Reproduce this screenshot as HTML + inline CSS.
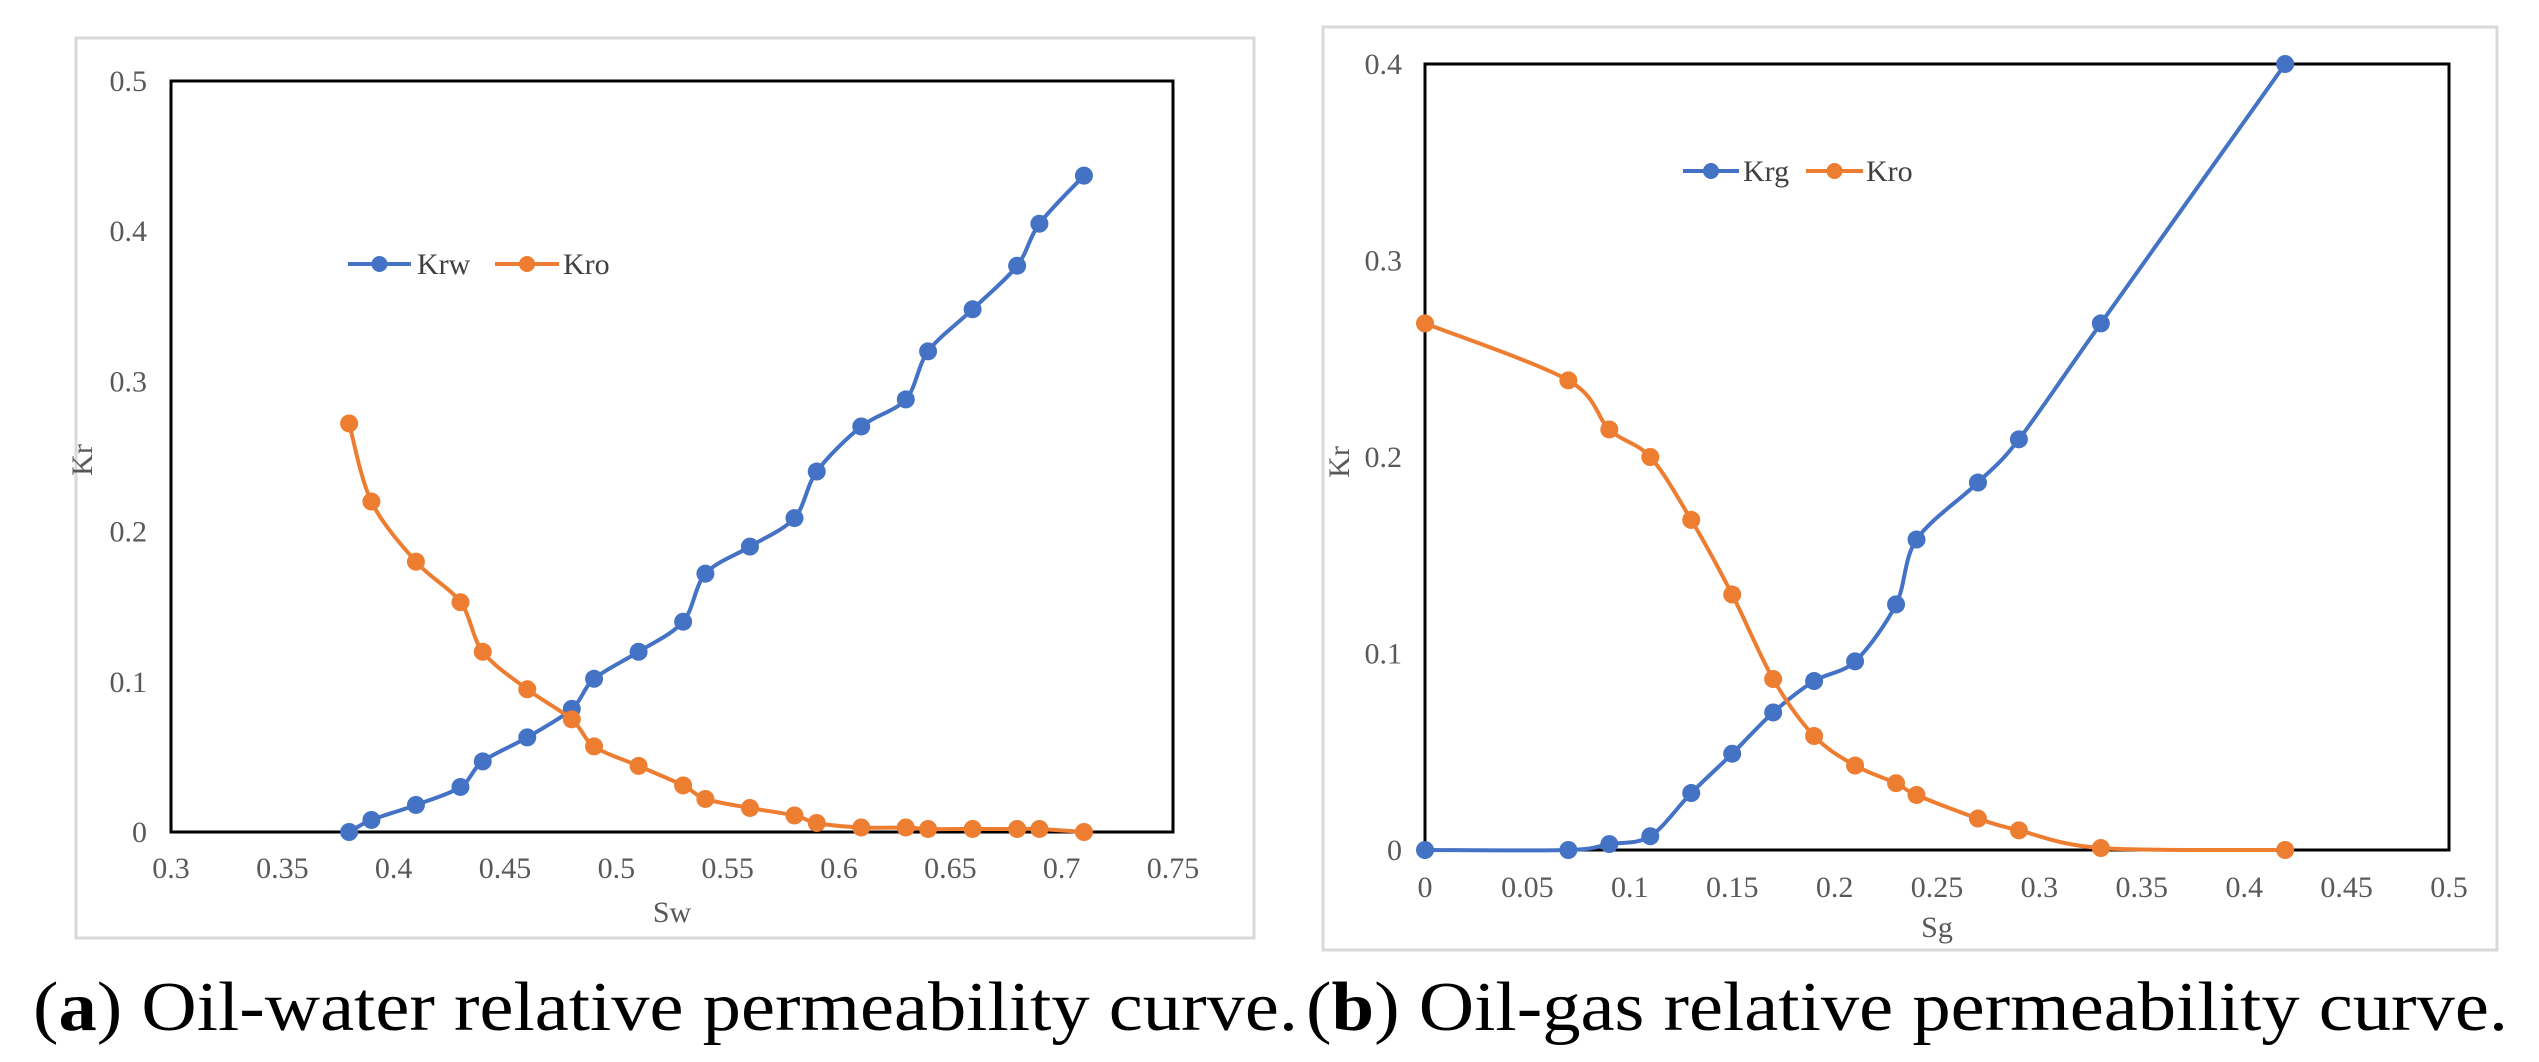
<!DOCTYPE html>
<html><head><meta charset="utf-8"><style>
html,body{margin:0;padding:0;background:#fff;}
svg{display:block;}
text{font-family:"Liberation Serif",serif;}
</style></head><body>
<svg id="fig" width="2539" height="1062" viewBox="0 0 2539 1062" xmlns="http://www.w3.org/2000/svg">
<rect x="76" y="38" width="1178" height="900" fill="#fff" stroke="#d9d9d9" stroke-width="3"/>
<rect x="1323" y="27" width="1174" height="923" fill="#fff" stroke="#d9d9d9" stroke-width="3"/>
<g id="chartA"></g>
<g id="chartB"></g>
<text x="33" y="1030" font-size="70" textLength="1265" lengthAdjust="spacingAndGlyphs" fill="#000">(<tspan font-weight="bold">a</tspan>) Oil-water relative permeability curve.</text>
<text x="1306" y="1030" font-size="70" textLength="1202" lengthAdjust="spacingAndGlyphs" fill="#000">(<tspan font-weight="bold">b</tspan>) Oil-gas relative permeability curve.</text>
</svg>
<script>
const swVals = [0.38,0.39,0.41,0.43,0.44,0.46,0.48,0.49,0.51,0.53,0.54,0.56,0.58,0.59,0.61,0.63,0.64,0.66,0.68,0.69,0.71];
const krwVals = [0,0.008,0.018,0.03,0.047,0.063,0.082,0.102,0.12,0.14,0.172,0.19,0.209,0.24,0.27,0.288,0.32,0.348,0.377,0.405,0.437];
const kroAVals = [0.272,0.22,0.18,0.153,0.12,0.095,0.075,0.057,0.044,0.031,0.022,0.016,0.011,0.006,0.003,0.003,0.002,0.002,0.002,0.002,0];
const xTicksA = ["0.3","0.35","0.4","0.45","0.5","0.55","0.6","0.65","0.7","0.75"];
const yTicksA = ["0","0.1","0.2","0.3","0.4","0.5"];

const sgVals = [0,0.07,0.09,0.11,0.13,0.15,0.17,0.19,0.21,0.23,0.24,0.27,0.29,0.33,0.42];
const krgVals = [0,0,0.003,0.007,0.029,0.049,0.07,0.086,0.096,0.125,0.158,0.187,0.209,0.268,0.4];
const kroBVals = [0.268,0.239,0.214,0.2,0.168,0.13,0.087,0.058,0.043,0.034,0.028,0.016,0.01,0.001,0];
const xTicksB = ["0","0.05","0.1","0.15","0.2","0.25","0.3","0.35","0.4","0.45","0.5"];
const yTicksB = ["0","0.1","0.2","0.3","0.4"];

const NS="http://www.w3.org/2000/svg";
function mk(tag,attrs,parent){const e=document.createElementNS(NS,tag);for(const k in attrs)e.setAttribute(k,attrs[k]);parent.appendChild(e);return e;}
function smooth(pts){
  let d=`M${pts[0][0]},${pts[0][1]}`;
  for(let i=0;i<pts.length-1;i++){
    const p0=pts[Math.max(0,i-1)],p1=pts[i],p2=pts[i+1],p3=pts[Math.min(pts.length-1,i+2)];
    const t=0.16;
    const c1=[p1[0]+(p2[0]-p0[0])*t,p1[1]+(p2[1]-p0[1])*t];
    const c2=[p2[0]-(p3[0]-p1[0])*t,p2[1]-(p3[1]-p1[1])*t];
    d+=` C${c1[0]},${c1[1]} ${c2[0]},${c2[1]} ${p2[0]},${p2[1]}`;
  }
  return d;
}
function drawChart(g,cfg){
  const {x0,x1,y0,y1,xmin,xmax,ymin,ymax,xTicks,yTicks,series,xTitle,xTitleY,kr,legend,tickY,yLabelX}=cfg;
  const xs=v=>x0+(v-xmin)/(xmax-xmin)*(x1-x0);
  const ys=v=>y0-(v-ymin)/(ymax-ymin)*(y0-y1);
  const frame=mk('rect',{x:x0,y:y1,width:x1-x0,height:y0-y1,fill:'none',stroke:'#000','stroke-width':3},g);
  
  
  xTicks.forEach(t=>{
    const e=mk('text',{x:xs(parseFloat(t)),y:tickY,'font-size':30,fill:'#595959','text-anchor':'middle'},g);
    e.textContent=t;
    
    
  });
  yTicks.forEach(t=>{
    const e=mk('text',{x:yLabelX,y:ys(parseFloat(t))+10,'font-size':30,fill:'#595959','text-anchor':'end'},g);
    e.textContent=t;
    
    
  });
  const xt=mk('text',{x:(x0+x1)/2,y:xTitleY,'font-size':30,fill:'#595959','text-anchor':'middle'},g);
  xt.textContent=xTitle;
  
  
  const yt=mk('text',{x:kr[0],y:kr[1],'font-size':30,fill:'#595959','text-anchor':'middle',transform:`rotate(-90 ${kr[0]} ${kr[1]})`},g);
  yt.textContent='Kr';
  
  
  series.forEach(s=>{
    const pts=s.x.map((v,i)=>[xs(v),ys(s.y[i])]);
    const sg=mk('g',{},g);
    
    
    const p=mk('path',{d:smooth(pts),fill:'none',stroke:s.color,'stroke-width':4},sg);
    
    
    pts.forEach(q=>{
      const c=mk('circle',{cx:q[0],cy:q[1],r:9,fill:s.color},sg);
      
      
    });
  });
  legend.forEach((L,i)=>{
    const s=series[i];
    const lg=mk('g',{},g);
    
    
    mk('line',{x1:L[0],x2:L[1],y1:L[3],y2:L[3],stroke:s.color,'stroke-width':4},lg);
    mk('circle',{cx:(L[0]+L[1])/2,cy:L[3],r:8,fill:s.color},lg);
    const t=mk('text',{x:L[2],y:L[3]+10,'font-size':30,fill:'#404040'},lg);
    t.textContent=s.name;
  });
}
drawChart(document.getElementById('chartA'),{
  x0:171,x1:1173,y0:832,y1:81,xmin:0.3,xmax:0.75,ymin:0,ymax:0.5,
  xTicks:xTicksA,yTicks:yTicksA,tickY:878,yLabelX:147,xTitle:'Sw',xTitleY:922,kr:[92,460],
  series:[{name:'Krw',x:swVals,y:krwVals,color:'#4472C4'},{name:'Kro',x:swVals,y:kroAVals,color:'#ED7D31'}],
  legend:[[348,411,417,264],[495,559,563,264]]
});
drawChart(document.getElementById('chartB'),{
  x0:1425,x1:2449,y0:850,y1:64,xmin:0,xmax:0.5,ymin:0,ymax:0.4,
  xTicks:xTicksB,yTicks:yTicksB,tickY:897,yLabelX:1402,xTitle:'Sg',xTitleY:937,kr:[1349,462],
  series:[{name:'Krg',x:sgVals,y:krgVals,color:'#4472C4'},{name:'Kro',x:sgVals,y:kroBVals,color:'#ED7D31'}],
  legend:[[1683,1739,1743,171],[1806,1863,1866,171]]
});
</script>
</body></html>
